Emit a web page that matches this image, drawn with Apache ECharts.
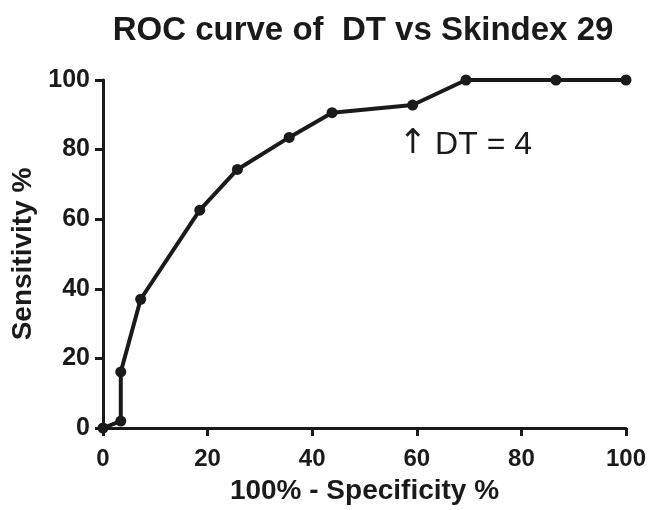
<!DOCTYPE html>
<html>
<head>
<meta charset="utf-8">
<script src="https://cdn.jsdelivr.net/npm/echarts@6/dist/echarts.min.js"></script>
<style>
  html, body { margin: 0; padding: 0; background: #fff; }
  #main { width: 649px; height: 510px; }
</style>
</head>
<body>
<div id="main"></div>
<script>
// 100% - specificity (x) and sensitivity (y)
const fpr = [0, 3.4, 3.4, 7.2, 18.5, 25.7, 35.6, 43.8, 59.2, 69.4, 86.6, 100];
const sens = [0, 2.0, 16.1, 37.0, 62.6, 74.3, 83.5, 90.6, 92.8, 100, 100, 100];
const cutPoint = [59.2, 92.8];
const cutText = "DT = 4";

const chart = echarts.init(document.getElementById("main"));
const font = "Liberation Sans, Arial, Helvetica, sans-serif";

const option = {
    animation: false,
    backgroundColor: "#fff",
    title: {
        text: "ROC curve of  DT vs Skindex 29",
        left: 358,
        textAlign: "center",
        top: 9,
        textStyle: { fontFamily: font, fontSize: 33, fontWeight: "bold", color: "#1a1a1a" }
    },
    grid: { left: 103, right: 22, top: 80, bottom: 82 },
    xAxis: {
        type: "value",
        min: 0, max: 100, interval: 20,
        name: "100% - Specificity %",
        nameLocation: "middle",
        nameGap: 49,
        nameTextStyle: { fontFamily: font, fontSize: 28, fontWeight: "bold", color: "#1a1a1a" },
        axisLine: { onZero: false, lineStyle: { color: "#1a1a1a", width: 3 } },
        axisTick: { show: true, length: 8, lineStyle: { color: "#1a1a1a", width: 3 } },
        axisLabel: { fontFamily: font, fontSize: 24, fontWeight: "bold", color: "#1a1a1a", margin: 19 },
        splitLine: { show: false }
    },
    yAxis: {
        type: "value",
        min: 0, max: 100, interval: 20,
        name: "Sensitivity %",
        nameLocation: "middle",
        nameGap: 66,
        nameTextStyle: { fontFamily: font, fontSize: 28, fontWeight: "bold", color: "#1a1a1a" },
        axisLine: { show: true, onZero: false, lineStyle: { color: "#1a1a1a", width: 3 } },
        axisTick: { show: true, length: 8, lineStyle: { color: "#1a1a1a", width: 3 } },
        axisLabel: { fontFamily: font, fontSize: 25, fontWeight: "bold", color: "#1a1a1a", margin: 13 },
        splitLine: { show: false }
    },
    series: [
        {
            type: "line",
            data: fpr.map((x, i) => [x, sens[i]]),
            symbol: "circle",
            symbolSize: 11,
            lineStyle: { color: "#1a1a1a", width: 4 },
            itemStyle: { color: "#1a1a1a" },
            markPoint: {
                symbol: "circle",
                symbolSize: 1,
                itemStyle: { color: "rgba(0,0,0,0)" },
                data: [{
                    coord: cutPoint,
                    label: {
                        show: true,
                        formatter: "{a|\u2191}{b|" + cutText + "}",
                        position: "inside",
                        align: "left",
                        verticalAlign: "middle",
                        offset: [-14, 40],
                        color: "#1a1a1a",
                        rich: {
                            a: { fontFamily: "DejaVu Sans", fontSize: 34, color: "#1a1a1a", padding: [0, 0, 2, 0] },
                            b: { fontFamily: font, fontSize: 32, color: "#1a1a1a", padding: [0, 0, 0, 8] }
                        }
                    }
                }]
            }
        }
    ]
};
chart.setOption(option);
</script>
</body>
</html>
